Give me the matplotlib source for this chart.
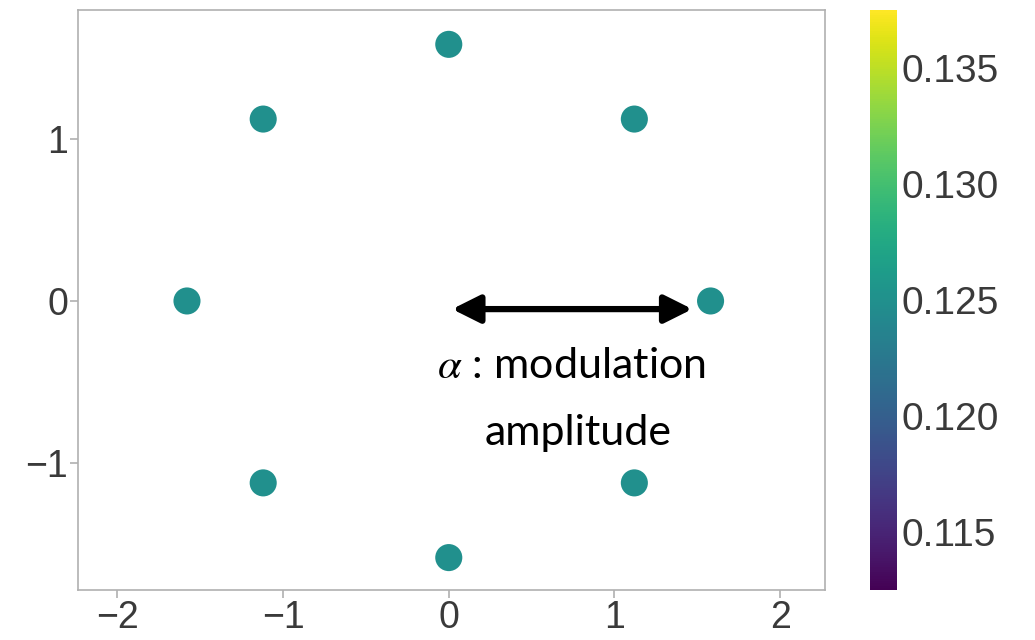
import numpy as np
import matplotlib.pyplot as plt

# constellation points (8 points on a ring) and their colour value
x = [0.0, 1.12, 1.58, 1.12, 0.0, -1.12, -1.58, -1.12]
y = [1.58, 1.12, 0.0, -1.12, -1.58, -1.12, 0.0, 1.12]
vals = [0.125] * 8

plt.rcParams['font.family'] = ['Liberation Sans', 'DejaVu Sans']
plt.rcParams['mathtext.fontset'] = 'stix'
fig = plt.figure(figsize=(10.35, 6.4), dpi=100)
ax = fig.add_axes([0.075, 0.078, 0.722, 0.906])
cax = fig.add_axes([0.841, 0.078, 0.026, 0.906])

sc = ax.scatter(x, y, c=vals, cmap='viridis', s=380, edgecolors='none')
cb = fig.colorbar(sc, cax=cax)
cb.outline.set_visible(False)
cb.ax.tick_params(length=0, labelsize=28, labelcolor='#3a3a3a', pad=3)
cb.set_ticks([0.115, 0.120, 0.125, 0.130, 0.135])
cb.ax.set_yticklabels(['0.115', '0.120', '0.125', '0.130', '0.135'])

ax.set_xlim(-2.24, 2.27)
ax.set_ylim(-1.78, 1.79)
ax.set_xticks([-2, -1, 0, 1, 2])
ax.set_yticks([-1, 0, 1])
ax.set_xticklabels(['\u22122', '\u22121', '0', '1', '2'])
ax.set_yticklabels(['\u22121', '0', '1'])
for s in ax.spines.values():
    s.set_color('#b0b0b0')
    s.set_linewidth(1.2)
ax.tick_params(direction='out', length=6, width=1.2, color='#b0b0b0',
               labelsize=27, labelcolor='#3a3a3a', pad=1)

# amplitude arrow + label
ax.annotate('', xy=(0.02, -0.05), xytext=(1.47, -0.05),
            arrowprops=dict(arrowstyle='<|-|>', color='black', lw=4.5,
                            mutation_scale=42, shrinkA=0, shrinkB=0))
ax.text(0.74, -0.40, r'$\alpha$ : modulation', ha='center', va='center',
        fontsize=31, family=['Lato', 'DejaVu Sans'], color='black')
ax.text(0.78, -0.81, 'amplitude', ha='center', va='center',
        fontsize=31, family=['Lato', 'DejaVu Sans'], color='black')

plt.savefig('out.png', dpi=100)
